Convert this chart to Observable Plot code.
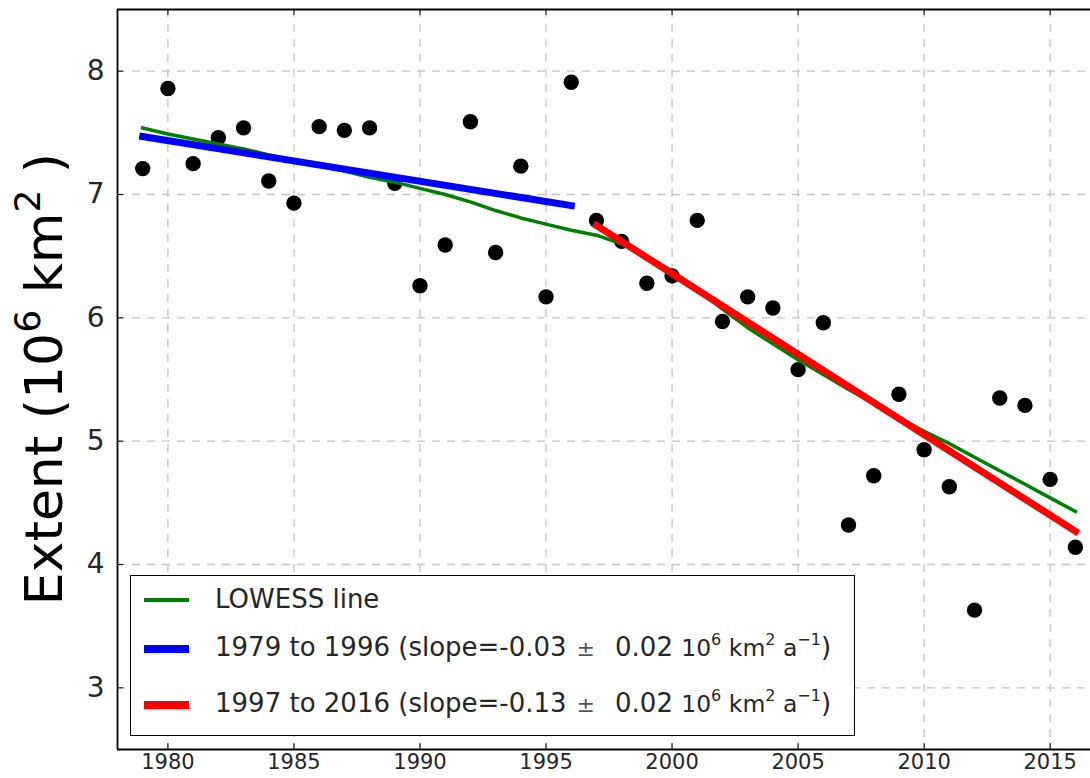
<!DOCTYPE html>
<html>
<head>
<meta charset="utf-8">
<script src="https://cdn.jsdelivr.net/npm/d3@7"></script>
<script src="https://cdn.jsdelivr.net/npm/@observablehq/plot@0.6"></script>
<style>
  html, body { margin: 0; padding: 0; background: #fff; overflow: hidden; }
  #wrap { position: relative; width: 1090px; height: 778px; overflow: hidden; font-family: "DejaVu Sans", sans-serif; }
  #legend { position: absolute; left: 130px; top: 575px; width: 725px; height: 161px; box-sizing: border-box;
            border: 1.6px solid #000; background: #fff; }
  .row { position: absolute; left: 0; right: 0; height: 0; }
  .sw { position: absolute; left: 13px; width: 45px; }
  .lab { position: absolute; left: 84px; top: 0; transform: translateY(-55%); font-size: 26px; color: #262626; white-space: nowrap; line-height: 1; }
  .math { font-size: 23.5px; }
  .math sup { font-size: 16px; position: relative; top: -2px; }
  .pm { font-size: 22px; color: #555; margin: 0 20px 0 10px; }
</style>
</head>
<body>
<div id="wrap"><div id="chart"></div><div id="legend"></div></div>
<script>
// ---- data ----
const years = [1979,1980,1981,1982,1983,1984,1985,1986,1987,1988,1989,1990,1991,1992,1993,1994,1995,1996,1997,1998,
               1999,2000,2001,2002,2003,2004,2005,2006,2007,2008,2009,2010,2011,2012,2013,2014,2015,2016];
const extent = [7.21,7.86,7.25,7.46,7.54,7.11,6.93,7.55,7.52,7.54,7.09,6.26,6.59,7.59,6.53,7.23,6.17,7.91,6.79,6.62,
                6.28,6.34,6.79,5.97,6.17,6.08,5.58,5.96,4.32,4.72,5.38,4.93,4.63,3.63,5.35,5.29,4.69,4.14];
const lowess = [7.54,7.49,7.45,7.41,7.37,7.32,7.28,7.23,7.19,7.14,7.10,7.05,7.00,6.94,6.87,6.81,6.76,6.71,6.67,6.60,
                6.50,6.38,6.23,6.07,5.92,5.79,5.66,5.54,5.42,5.31,5.19,5.08,4.98,4.87,4.76,4.65,4.54,4.43];
const earlyYears = [1979, 1996];
const earlyFit = [7.47, 6.91];
const lateYears = [1997, 2016];
const lateFit = [6.75, 4.27];
const xTicks = [1980,1985,1990,1995,2000,2005,2010,2015];
const yTicks = [3,4,5,6,7,8];
const xDomain = [1978, 2016.6];
const yDomain = [2.5, 8.5];
const legendText = ["LOWESS line", "1979 to 1996 (slope=-0.03", "1997 to 2016 (slope=-0.13"];
const legendErr = [null, "0.02", "0.02"];
const legendColors = ["#008000", "#0000ff", "#ff0000"];
const yLabelParts = ["Extent (10", "6", " km", "2", " )"];

// ---- layout ----
const W = 1090, H = 778, mL = 117, mT = 9, mB = 29, mR = 0;
const plotW = W - mL - mR, plotH = H - mT - mB;

const pts = years.map((y, i) => ({year: y, extent: extent[i], lowess: lowess[i]}));
const early = earlyYears.map((y, i) => ({year: y, v: earlyFit[i]}));
const late = lateYears.map((y, i) => ({year: y, v: lateFit[i]}));

const gridStyle = {stroke: "#c4c4c4", strokeWidth: 1.3, strokeDasharray: "8,7"};

const chart = Plot.plot({
  width: W, height: H,
  marginLeft: mL, marginTop: mT, marginBottom: mB, marginRight: mR,
  style: {fontFamily: "DejaVu Sans, sans-serif", background: "#fff", color: "#262626"},
  x: {domain: xDomain},
  y: {domain: yDomain},
  marks: [
    Plot.ruleX(xTicks, {x: d => d, ...gridStyle}),
    Plot.ruleY(yTicks, {y: d => d, ...gridStyle}),
    Plot.tickX(xTicks, {x: d => d, insetTop: plotH - 6, stroke: "#000", strokeWidth: 1}),
    Plot.tickX(xTicks, {x: d => d, insetBottom: plotH - 6, stroke: "#000", strokeWidth: 1}),
    Plot.tickY(yTicks, {y: d => d, insetRight: plotW - 6, stroke: "#000", strokeWidth: 1}),
    Plot.dot(pts, {x: "year", y: "extent", r: 7.7, fill: "#000", stroke: null}),
    Plot.line(pts, {x: "year", y: "lowess", stroke: legendColors[0], strokeWidth: 3.5, strokeLinecap: "square"}),
    Plot.line(early, {x: "year", y: "v", stroke: legendColors[1], strokeWidth: 7, strokeLinecap: "square"}),
    Plot.line(late, {x: "year", y: "v", stroke: legendColors[2], strokeWidth: 7, strokeLinecap: "square"}),
    Plot.ruleX([xDomain[0]], {x: d => d, stroke: "#000", strokeWidth: 1.8}),
    Plot.ruleY([yDomain[0]], {y: d => d, stroke: "#000", strokeWidth: 1.8}),
    Plot.ruleY([yDomain[1]], {y: d => d, stroke: "#000", strokeWidth: 1.8}),
    Plot.axisX({ticks: xTicks, tickSize: 0, tickPadding: 5, fontSize: 21, tickFormat: d3.format("d"), label: null}),
    Plot.axisY({ticks: yTicks, tickSize: 0, tickPadding: 13, fontSize: 28, tickFormat: d3.format("d"), label: null})
  ]
});
document.getElementById("chart").appendChild(chart);

// y-axis label with superscripts
const svg = d3.select(chart);
const lab = svg.append("text")
  .attr("transform", `translate(62, ${mT + plotH / 2}) rotate(-90)`)
  .attr("text-anchor", "middle")
  .attr("font-family", "DejaVu Sans, sans-serif")
  .attr("font-size", 52)
  .attr("fill", "#000");
lab.append("tspan").text(yLabelParts[0]);
lab.append("tspan").attr("font-size", 36).attr("dy", -22).text(yLabelParts[1]);
lab.append("tspan").attr("dy", 22).text(yLabelParts[2]);
lab.append("tspan").attr("font-size", 36).attr("dy", -22).text(yLabelParts[3]);
lab.append("tspan").attr("dy", 22).text(yLabelParts[4]);

// legend
const legend = d3.select("#legend");
const rowY = [24, 73, 129];
const swH = [4, 8, 8];
legendText.forEach((t, i) => {
  const row = legend.append("div").attr("class", "row").style("top", rowY[i] + "px");
  row.append("div").attr("class", "sw")
    .style("height", swH[i] + "px").style("top", (-swH[i] / 2) + "px")
    .style("background", legendColors[i]);
  const l = row.append("div").attr("class", "lab");
  l.append("span").text(t);
  if (legendErr[i]) {
    l.append("span").attr("class", "pm").text("±");
    l.append("span").text(legendErr[i] + " ");
    l.append("span").attr("class", "math").html("10<sup>6</sup> km<sup>2</sup> a<sup>−1</sup>");
    l.append("span").text(")");
  }
});
</script>
</body>
</html>
